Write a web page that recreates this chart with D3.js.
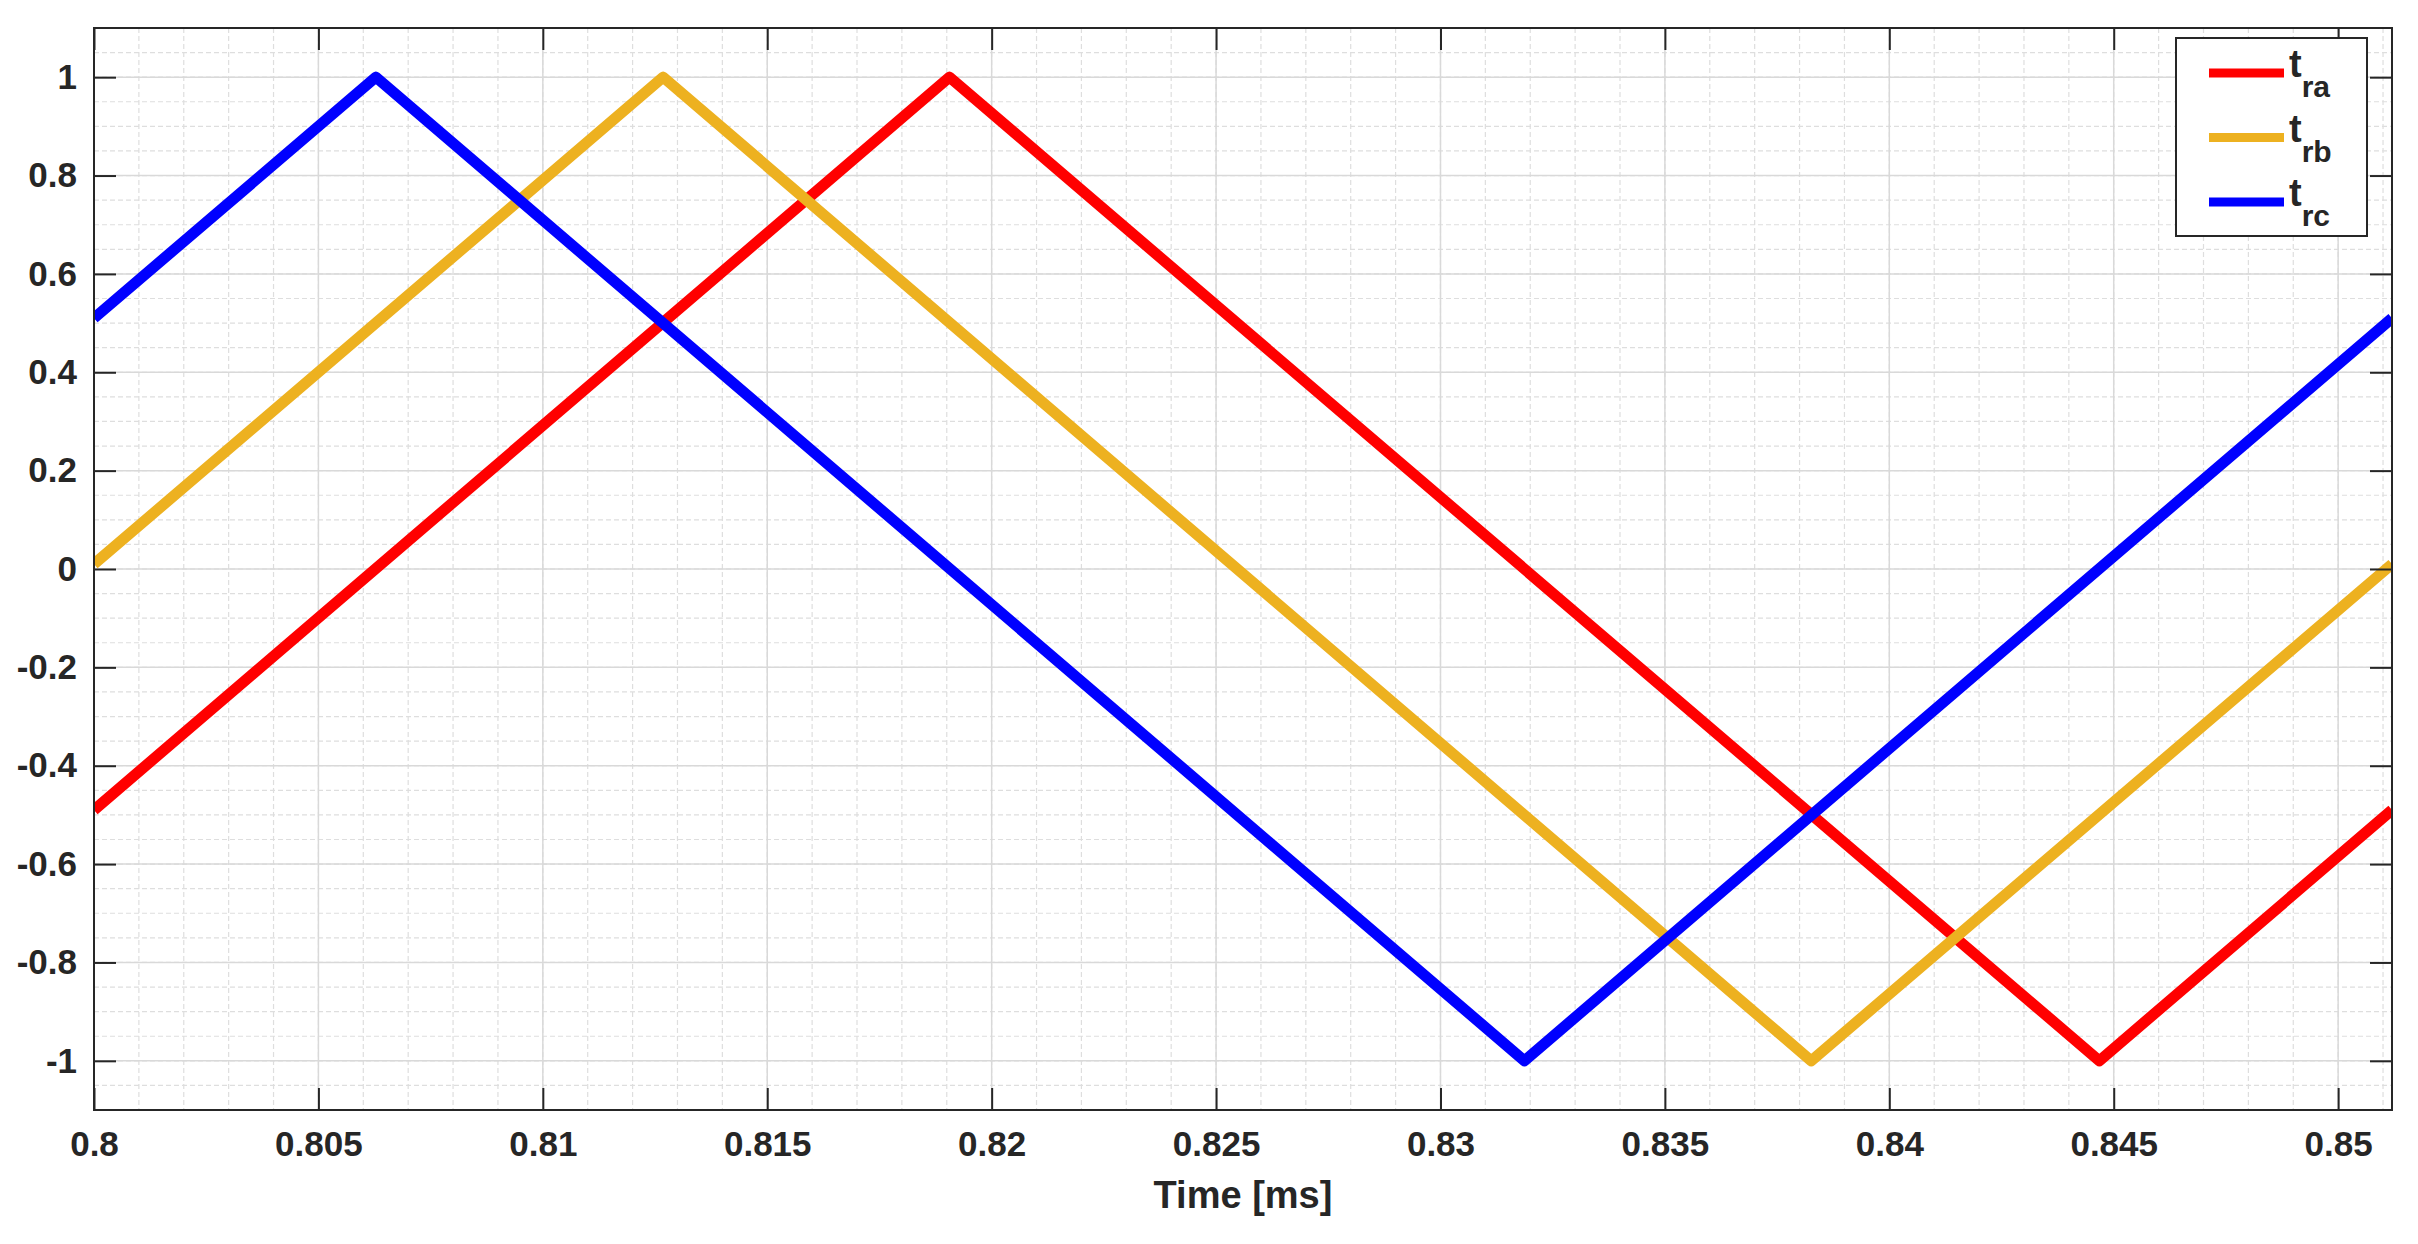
<!DOCTYPE html>
<html>
<head>
<meta charset="utf-8">
<script src="https://cdn.jsdelivr.net/npm/d3@7"></script>
<style>
  body { margin: 0; background: #fff; }
  text { font-family: "Liberation Sans", Arial, sans-serif; font-weight: bold; fill: #262626; }
</style>
</head>
<body>
<div id="chart"></div>
<script>
// vertices of each triangular carrier (time in ms, value)
var timeRa = [0.8, 0.81906, 0.84468, 0.8512];
var valRa  = [-0.49, 1, -1, -0.49];
var timeRb = [0.8, 0.81268, 0.83826, 0.8512];
var valRb  = [0.01, 1, -1, 0.01];
var timeRc = [0.8, 0.80628, 0.83187, 0.8512];
var valRc  = [0.51, 1, -1, 0.51];

var seriesNames = ["ra", "rb", "rc"];
var xTicks = [0.8, 0.805, 0.81, 0.815, 0.82, 0.825, 0.83, 0.835, 0.84, 0.845, 0.85];
var yTicks = [-1, -0.8, -0.6, -0.4, -0.2, 0, 0.2, 0.4, 0.6, 0.8, 1];

var width = 2418, height = 1244;
var margin = { top: 28, right: 26, bottom: 134, left: 94 };
var colors = ["#FF0000", "#EDB120", "#0000FF"];
var axisColor = "#262626";

var svg = d3.select("#chart").append("svg")
    .attr("width", width)
    .attr("height", height);

var w = width - margin.left - margin.right;
var h = height - margin.top - margin.bottom;

var x = d3.scaleLinear().domain([0.8, 0.8512]).range([0, w]);
var y = d3.scaleLinear().domain([-1.1, 1.1]).range([h, 0]);

var g = svg.append("g")
    .attr("transform", "translate(" + margin.left + "," + margin.top + ")");

// minor grid
var xMinor = d3.range(0, 52).map(function(i) { return 0.8 + i * 0.001; }).filter(function(d) { return d <= 0.8512; });
var yMinor = d3.range(0, 45).map(function(i) { return -1.1 + i * 0.05; });

g.append("g").selectAll("line")
    .data(xMinor)
    .enter().append("line")
    .attr("x1", function(d) { return x(d); })
    .attr("x2", function(d) { return x(d); })
    .attr("y1", 0).attr("y2", h)
    .attr("stroke", "#dedede").attr("stroke-width", 1.2)
    .attr("stroke-dasharray", "5,3");

g.append("g").selectAll("line")
    .data(yMinor)
    .enter().append("line")
    .attr("y1", function(d) { return y(d); })
    .attr("y2", function(d) { return y(d); })
    .attr("x1", 0).attr("x2", w)
    .attr("stroke", "#dedede").attr("stroke-width", 1.2)
    .attr("stroke-dasharray", "5,3");

// major grid
g.append("g").selectAll("line")
    .data(xTicks)
    .enter().append("line")
    .attr("x1", function(d) { return x(d); })
    .attr("x2", function(d) { return x(d); })
    .attr("y1", 0).attr("y2", h)
    .attr("stroke", "#d9d9d9").attr("stroke-width", 1.5);

g.append("g").selectAll("line")
    .data(yTicks)
    .enter().append("line")
    .attr("y1", function(d) { return y(d); })
    .attr("y2", function(d) { return y(d); })
    .attr("x1", 0).attr("x2", w)
    .attr("stroke", "#d9d9d9").attr("stroke-width", 1.5);

// lines
svg.append("defs").append("clipPath").attr("id", "clip")
    .append("rect").attr("width", w).attr("height", h);

var line = d3.line()
    .x(function(d) { return x(d[0]); })
    .y(function(d) { return y(d[1]); });

var series = [d3.zip(timeRa, valRa), d3.zip(timeRb, valRb), d3.zip(timeRc, valRc)];

g.append("g").attr("clip-path", "url(#clip)")
    .selectAll("path")
    .data(series)
    .enter().append("path")
    .attr("d", line)
    .attr("fill", "none")
    .attr("stroke", function(d, i) { return colors[i]; })
    .attr("stroke-width", 11)
    .attr("stroke-linejoin", "round");

// axes with inward ticks on all sides
var fmtX = function(d) { return String(+d.toFixed(3)); };
var fmtY = function(d) { return String(+d.toFixed(1)); };
var tickLen = 22;

var xAxis = g.append("g")
    .attr("transform", "translate(0," + h + ")")
    .call(d3.axisBottom(x).tickValues(xTicks).tickFormat(fmtX).tickSize(-tickLen).tickPadding(21));
var xAxisTop = g.append("g")
    .call(d3.axisTop(x).tickValues(xTicks).tickFormat("").tickSize(-tickLen));
var yAxis = g.append("g")
    .call(d3.axisLeft(y).tickValues(yTicks).tickFormat(fmtY).tickSize(-tickLen).tickPadding(17));
var yAxisRight = g.append("g")
    .attr("transform", "translate(" + w + ",0)")
    .call(d3.axisRight(y).tickValues(yTicks).tickFormat("").tickSize(-tickLen));

[xAxis, xAxisTop, yAxis, yAxisRight].forEach(function(a) {
    a.select(".domain").remove();
    a.selectAll(".tick line").attr("stroke", axisColor).attr("stroke-width", 2);
    a.selectAll("text")
        .style("font-family", "'Liberation Sans', Arial, sans-serif")
        .style("font-weight", "bold")
        .style("font-size", "35px")
        .attr("fill", axisColor);
});

// box
g.append("rect")
    .attr("width", w).attr("height", h)
    .attr("fill", "none")
    .attr("stroke", axisColor).attr("stroke-width", 2);

// x label
g.append("text")
    .attr("x", w / 2)
    .attr("y", h + 98)
    .attr("text-anchor", "middle")
    .style("font-size", "38px")
    .text("Time [ms]");

// legend
var legend = svg.append("g").attr("transform", "translate(2176,38)");
legend.append("rect")
    .attr("width", 191).attr("height", 198)
    .attr("fill", "#fff")
    .attr("stroke", axisColor).attr("stroke-width", 2);

var items = legend.selectAll("g.item")
    .data(seriesNames)
    .enter().append("g")
    .attr("class", "item")
    .attr("transform", function(d, i) { return "translate(0," + (35 + i * 64.5) + ")"; });

items.append("line")
    .attr("x1", 33).attr("x2", 108)
    .attr("y1", 0).attr("y2", 0)
    .attr("stroke", function(d, i) { return colors[i]; })
    .attr("stroke-width", 9);

var lt = items.append("text")
    .attr("x", 113)
    .attr("y", 4);
lt.append("tspan").style("font-size", "38px").text("t");
lt.append("tspan").attr("dy", 20).style("font-size", "30px").text(function(d) { return d; });
</script>
</body>
</html>
